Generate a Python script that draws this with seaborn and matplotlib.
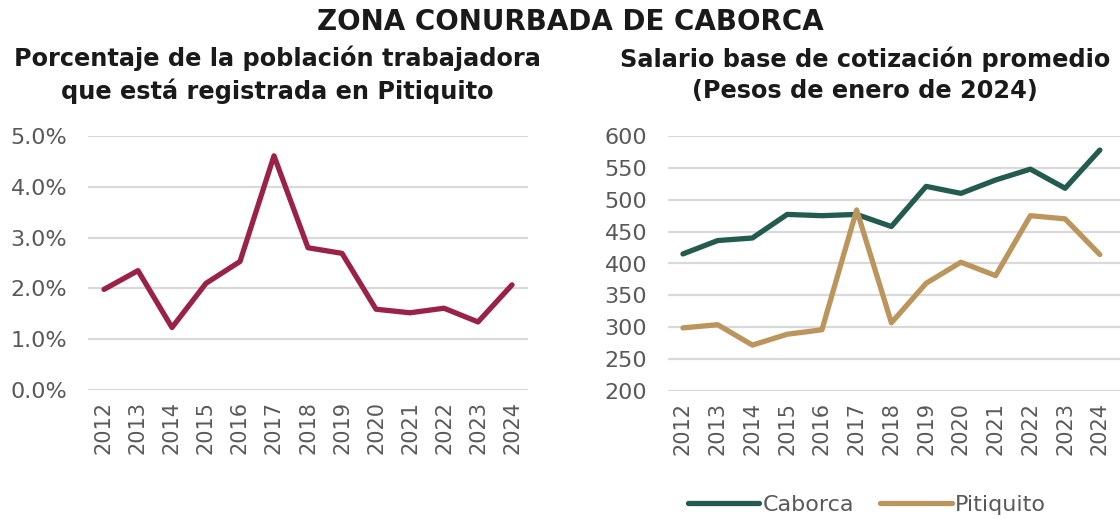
import numpy as np
import pandas as pd
import seaborn as sns
import matplotlib.pyplot as plt
from matplotlib.ticker import PercentFormatter

sns.set_theme(style='white')
plt.rcParams['font.family'] = ['DejaVu Sans']

#%% data
years = [str(y) for y in range(2012, 2025)]
pct_pitiquito = [1.98, 2.35, 1.23, 2.10, 2.53, 4.61, 2.80, 2.69, 1.59, 1.52, 1.61, 1.34, 2.07]
sal_caborca = [415, 436, 440, 477, 475, 477, 458, 521, 510, 531, 548, 518, 578]
sal_pitiquito = [299, 304, 272, 289, 296, 484, 307, 369, 402, 381, 475, 470, 414]

df_pct = pd.DataFrame({'year': years, 'pct': np.array(pct_pitiquito) / 100})
df_sal = pd.DataFrame({'year': years * 2,
                       'salario': sal_caborca + sal_pitiquito,
                       'zona': ['Caborca'] * len(years) + ['Pitiquito'] * len(years)})

maroon, green, gold = '#9B2247', '#235B4E', '#BC955C'
tickcol = '#595959'
gridcol = '#D9D9D9'

fig = plt.figure(figsize=(11.2, 5.19), dpi=100)
H = 519.
ax1 = fig.add_axes([88 / 1120, 1 - 390 / H, 440 / 1120, 254 / H])
ax2 = fig.add_axes([668 / 1120, 1 - 391 / H, 452 / 1120, 255 / H])

# left panel
sns.lineplot(data=df_pct, x='year', y='pct', ax=ax1, color=maroon, linewidth=3.8, sort=False)
ax1.set_ylim(0, 0.05)
ax1.set_yticks(np.arange(0, 0.051, 0.01))
ax1.yaxis.set_major_formatter(PercentFormatter(1.0, decimals=1))
ax1.set_xlim(-0.47, 12.47)

# right panel
sns.lineplot(data=df_sal, x='year', y='salario', hue='zona', ax=ax2,
             palette=[green, gold], linewidth=3.8, sort=False)
ax2.set_ylim(200, 600)
ax2.set_yticks(range(200, 601, 50))
ax2.set_xlim(-0.43, 12.58)

for ax in [ax1, ax2]:
    ax.set(xlabel='', ylabel='')
    ax.grid(axis='y', color=gridcol, linewidth=1.6)
    ax.set_axisbelow(True)
    sns.despine(ax=ax, left=True, bottom=True)
    ax.tick_params(axis='x', rotation=90, labelsize=15, colors=tickcol, length=0, pad=8)
    ax.tick_params(axis='y', labelsize=16, colors=tickcol, length=0, pad=15)
    ax.set_title('')

leg = ax2.legend(loc='center', bbox_to_anchor=(0.44, -(505 - 391) / 255), ncol=2, frameon=False,
                 fontsize=16, handlelength=3.2, handletextpad=0.15, columnspacing=1.2)
for t in leg.get_texts():
    t.set_color(tickcol)

fig.text(0.509, 1 - 22 / H, 'ZONA CONURBADA DE CABORCA', ha='center', va='center',
         fontsize=20, fontweight='bold', color='#1a1a1a')
fig.text(277 / 1120, 1 - 75 / H, 'Porcentaje de la población trabajadora\nque está registrada en Pitiquito',
         ha='center', va='center', fontsize=17.3, fontweight='bold', color='#1a1a1a', linespacing=1.38)
fig.text(865 / 1120, 1 - 75 / H, 'Salario base de cotización promedio\n(Pesos de enero de 2024)',
         ha='center', va='center', fontsize=17.3, fontweight='bold', color='#1a1a1a', linespacing=1.38)

fig.savefig('out.png', dpi=100, facecolor='white')
